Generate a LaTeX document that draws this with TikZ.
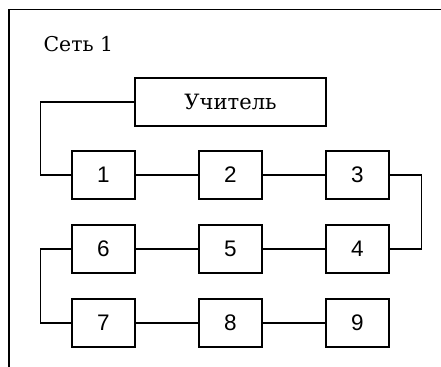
\documentclass[tikz,border=0pt]{standalone}
\usepackage{fontspec}
\usepackage{tikz}
\newfontfamily\serifont{DejaVu Serif}
\newfontfamily\numfont{Liberation Sans}

\begin{document}
\begin{tikzpicture}[x=0.025cm, y=-0.025cm, line width=0.9pt,
    box/.style={draw, line width=1.1pt, minimum width=1.575cm, minimum height=1.2cm, inner sep=0pt, font=\numfont\fontsize{16}{18}\selectfont}]
    \useasboundingbox (0,0) rectangle (441,367);
    \draw (9,367)--(9,9.5)--(441,9.5); % the page frame
    \node[anchor=base west, inner sep=0pt, font=\serifont\fontsize{14.5}{16}\selectfont] (title) at (43,52) {Сеть 1};
    \node[box, minimum width=4.775cm, font=\serifont\fontsize{15}{17}\selectfont] (teacher) at (230.5,102) {Учитель};
    \foreach \n/\x/\y in {1/103.5/175, 2/230.5/175, 3/357.5/175, 6/103.5/249, 5/230.5/249, 4/357.5/249, 7/103.5/323, 8/230.5/323, 9/357.5/323}
    \node[box] (b\n) at (\x,\y) {\n};
    \foreach \a/\b in {1/2, 2/3, 6/5, 5/4, 7/8, 8/9}
    \draw (b\a)--(b\b);
    \draw (teacher.west)--++(-94,0) |- (b1.west);
    \draw (b3.east)--++(32,0) |- (b4.east);
    \draw (b6.west)--++(-31,0) |- (b7.west);
  \end{tikzpicture}
\end{document}
